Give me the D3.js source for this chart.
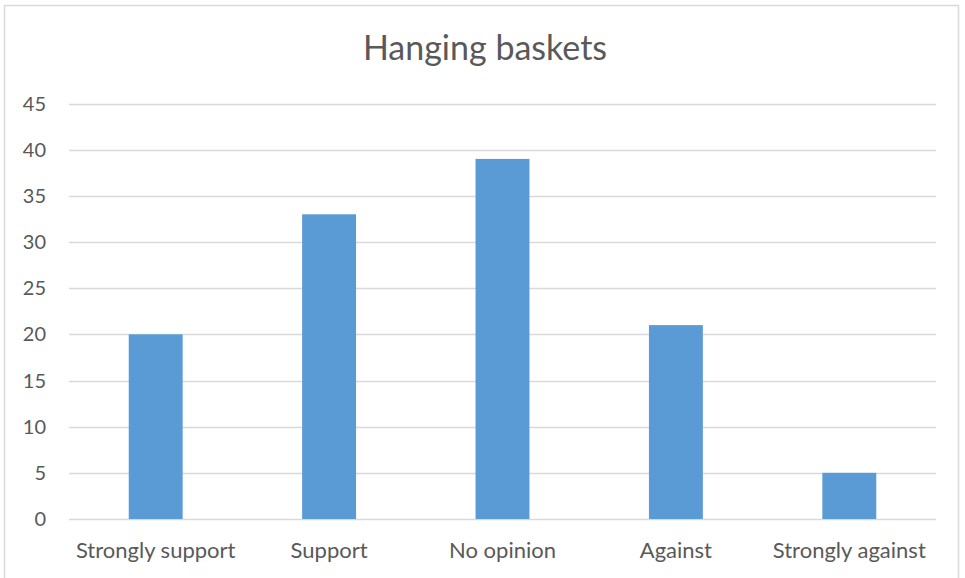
<!DOCTYPE html>
<html><head><meta charset="utf-8">
<script src="https://cdn.jsdelivr.net/npm/d3@7"></script>
<style>body{margin:0;background:#fff}svg{display:block}</style>
</head><body>
<svg id="c" width="965" height="578"></svg>
<script>
const categories = ["Strongly support","Support","No opinion","Against","Strongly against"];
const values = [20,33,39,21,5];
const yTicks = [0,5,10,15,20,25,30,35,40,45];
const title = "Hanging baskets";

const svg = d3.select("#c");
const font = "Lato, 'Open Sans', sans-serif";
svg.append("rect").attr("x",4.5).attr("y",5.5).attr("width",954).attr("height",590)
  .attr("fill","#fff").attr("stroke","#d9d9d9").attr("stroke-width",1.5);

const x = d3.scaleBand().domain(categories).range([69,936]).paddingInner(0.689).paddingOuter(0.3445);
const y = d3.scaleLinear().domain([0,45]).range([519,103.5]);

const g = svg.append("g");
g.selectAll("line.grid").data(yTicks).join("line")
  .attr("x1",69).attr("x2",936)
  .attr("y1",d=>Math.round(y(d))+0.5).attr("y2",d=>Math.round(y(d))+0.5)
  .attr("stroke","#d9d9d9").attr("stroke-width",1.3);

g.selectAll("text.yt").data(yTicks).join("text")
  .attr("x",46).attr("y",d=>y(d)+7).attr("text-anchor","end")
  .attr("font-family",font).attr("font-size",20).attr("fill","#595959").text(d=>d);

g.selectAll("rect.bar").data(values).join("rect")
  .attr("x",(d,i)=>x(categories[i])).attr("width",x.bandwidth())
  .attr("y",d=>y(d)).attr("height",d=>y(0)-y(d)).attr("fill","#5b9bd5");

g.selectAll("text.xt").data(categories).join("text")
  .attr("x",d=>x(d)+x.bandwidth()/2).attr("y",558).attr("text-anchor","middle")
  .attr("font-family",font).attr("font-size",22).attr("fill","#595959").text(d=>d);

svg.append("text").attr("x",485).attr("y",60).attr("text-anchor","middle")
  .attr("font-family",font).attr("font-size",34).attr("fill","#595959").text(title);
</script>
</body></html>
